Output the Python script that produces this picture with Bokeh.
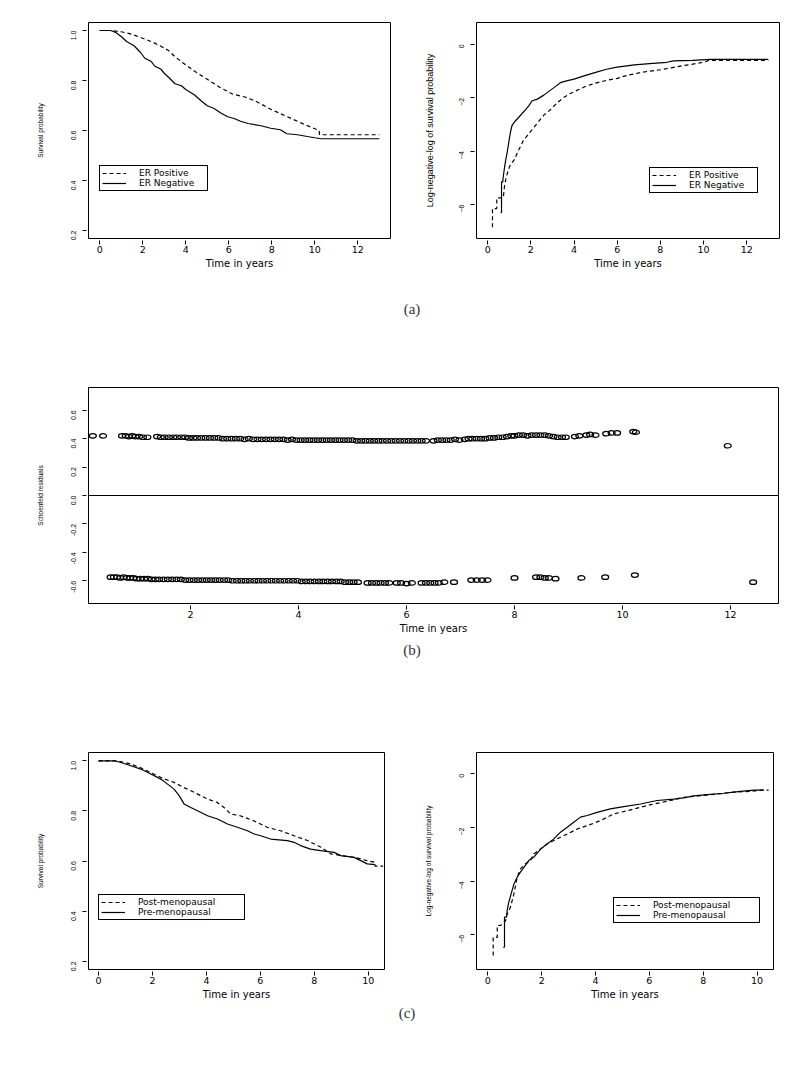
import math
from bokeh.plotting import figure
from bokeh.models import Range1d, FixedTicker, Legend, LegendItem, Span, Div, PrintfTickFormatter
from bokeh.layouts import column, row
from bokeh.embed import file_html
from bokeh.resources import INLINE

# ---------------- data ----------------
# (a) left: Kaplan-Meier survival by ER status
erpos_t = [0, 0.5, 1.0, 1.5, 2.0, 2.5, 3.0, 3.2, 3.5, 4.0, 4.5, 5.0, 5.6, 6.2, 6.8, 7.3, 8.0, 8.7, 9.5, 10.2, 10.22, 13.0]
erpos_s = [1.0, 1.0, 0.995, 0.985, 0.969, 0.952, 0.93, 0.92, 0.895, 0.862, 0.832, 0.805, 0.772, 0.745, 0.733, 0.715, 0.683, 0.656, 0.625, 0.60, 0.583, 0.583]
erneg_t = [0, 0.5, 0.75, 1.0, 1.25, 1.6, 1.9, 2.1, 2.4, 2.55, 2.85, 3.0, 3.25, 3.5, 3.8, 4.0, 4.4, 4.7, 5.0, 5.3, 5.65, 5.95, 6.25, 6.55, 6.9, 7.5, 7.95, 8.4, 8.7, 9.2, 9.65, 10.0, 10.3, 13.0]
erneg_s = [1.0, 1.0, 0.992, 0.976, 0.956, 0.939, 0.912, 0.889, 0.876, 0.858, 0.845, 0.829, 0.809, 0.787, 0.779, 0.764, 0.743, 0.72, 0.699, 0.689, 0.669, 0.655, 0.648, 0.637, 0.628, 0.619, 0.609, 0.603, 0.587, 0.583, 0.576, 0.571, 0.567, 0.567]

# (a) right: log(-log S) by ER status
erpos_lt = [0.22, 0.22, 0.42, 0.42, 0.72, 0.78, 0.85, 0.92, 1.0, 1.1, 1.25, 1.4, 1.5, 1.65, 1.8, 2.0, 2.3, 2.6, 2.9, 3.2, 3.5, 3.8, 4.2, 4.6, 5.0, 5.5, 6.0, 6.5, 7.0, 7.5, 8.0, 8.5, 9.0, 9.5, 10.0, 10.25, 13.0]
erpos_ly = [-6.85, -6.15, -6.15, -5.75, -5.75, -5.3, -5.0, -4.8, -4.6, -4.45, -4.3, -4.0, -3.85, -3.6, -3.45, -3.25, -2.95, -2.65, -2.45, -2.2, -2.0, -1.85, -1.7, -1.55, -1.45, -1.35, -1.27, -1.15, -1.07, -1.0, -0.95, -0.88, -0.8, -0.74, -0.67, -0.6, -0.6]
erneg_lt = [0.6, 0.64, 0.64, 0.7, 0.72, 0.78, 0.84, 0.9, 0.95, 1.0, 1.05, 1.12, 1.2, 1.3, 1.45, 1.6, 1.75, 1.9, 2.05, 2.3, 2.6, 2.85, 3.1, 3.4, 3.7, 4.0, 4.5, 5.0, 5.5, 6.0, 6.8, 7.5, 8.3, 8.6, 9.5, 10.3, 13.0]
erneg_ly = [-6.3, -6.3, -5.15, -5.15, -4.95, -4.6, -4.3, -4.05, -3.8, -3.55, -3.3, -3.05, -2.95, -2.85, -2.72, -2.58, -2.45, -2.3, -2.12, -2.05, -1.9, -1.75, -1.6, -1.42, -1.36, -1.3, -1.17, -1.05, -0.93, -0.85, -0.77, -0.72, -0.67, -0.62, -0.6, -0.56, -0.56]

# (b) Schoenfeld residuals
res_up_t = [0.19, 0.38, 0.73, 0.80, 0.86, 0.92, 0.98, 1.05, 1.12, 1.2,
            1.38, 1.45, 1.52, 1.6, 1.68, 1.75, 1.83, 1.9, 1.97, 2.05, 2.12, 2.2, 2.28, 2.36, 2.44, 2.52,
            2.6, 2.68, 2.76, 2.84, 2.92, 3.0, 3.08, 3.16, 3.24, 3.32, 3.4, 3.48, 3.56, 3.64, 3.72, 3.8,
            3.88, 3.96, 4.04, 4.12, 4.2, 4.28, 4.36, 4.44, 4.52, 4.6, 4.68, 4.76, 4.84, 4.92, 5.0, 5.08,
            5.16, 5.24, 5.32, 5.4, 5.48, 5.56, 5.64, 5.72, 5.8, 5.88, 5.96, 6.04, 6.12, 6.2, 6.28, 6.36,
            6.5, 6.58, 6.66, 6.74, 6.82, 6.9, 6.98,
            7.08, 7.15, 7.22, 7.3, 7.38, 7.46, 7.54, 7.62, 7.7, 7.78, 7.86, 7.94, 8.0, 8.08, 8.16, 8.24,
            8.32, 8.4, 8.48, 8.56, 8.64, 8.72, 8.8,
            8.88, 8.95, 9.12, 9.2, 9.33, 9.4, 9.5, 9.7, 9.8, 9.9, 10.2, 10.25, 11.95]
res_up_r = [0.42, 0.42, 0.42, 0.42, 0.415, 0.42, 0.415, 0.415, 0.41, 0.41,
            0.415, 0.41, 0.41, 0.41, 0.41, 0.41, 0.41, 0.41, 0.405, 0.405, 0.405, 0.405, 0.405, 0.405, 0.405, 0.405,
            0.40, 0.40, 0.40, 0.40, 0.40, 0.395, 0.40, 0.395, 0.395, 0.395, 0.395, 0.395, 0.395, 0.395, 0.395, 0.39,
            0.395, 0.39, 0.39, 0.39, 0.39, 0.39, 0.39, 0.39, 0.39, 0.39, 0.39, 0.39, 0.39, 0.39, 0.39, 0.385,
            0.385, 0.385, 0.385, 0.385, 0.385, 0.385, 0.385, 0.385, 0.385, 0.385, 0.385, 0.385, 0.385, 0.385, 0.385, 0.385,
            0.385, 0.39, 0.39, 0.39, 0.39, 0.395, 0.39,
            0.395, 0.40, 0.40, 0.40, 0.40, 0.40, 0.405, 0.405, 0.41, 0.41, 0.415, 0.42, 0.42, 0.425, 0.425, 0.42,
            0.425, 0.425, 0.425, 0.425, 0.42, 0.415, 0.41,
            0.41, 0.41, 0.415, 0.42, 0.425, 0.43, 0.425, 0.435, 0.44, 0.44, 0.45, 0.445, 0.35]
res_lo_t = [0.52, 0.58, 0.64, 0.7, 0.76, 0.82, 0.88, 0.94, 1.0, 1.07, 1.14, 1.21, 1.28, 1.35, 1.42, 1.5,
            1.58, 1.66, 1.74, 1.82, 1.9, 1.98, 2.06, 2.14, 2.22, 2.3, 2.38, 2.46, 2.54, 2.62, 2.7, 2.78,
            2.86, 2.94, 3.02, 3.1, 3.18, 3.26, 3.34, 3.42, 3.5, 3.58, 3.66, 3.74, 3.82, 3.9, 3.98, 4.06,
            4.14, 4.22, 4.3, 4.38, 4.46, 4.54, 4.62, 4.7, 4.78, 4.86, 4.94, 5.02, 5.1,
            5.28, 5.36, 5.44, 5.52, 5.6, 5.68, 5.82, 5.9, 6.0, 6.1,
            6.28, 6.36, 6.44, 6.52, 6.6, 6.7, 6.88,
            7.2, 7.3, 7.4, 7.5, 8.0, 8.4, 8.48, 8.56, 8.64, 8.76, 9.24, 9.68, 10.23, 12.42]
res_lo_r = [-0.575, -0.575, -0.575, -0.58, -0.575, -0.58, -0.58, -0.58, -0.585, -0.585, -0.585, -0.585, -0.59, -0.59, -0.59, -0.59,
            -0.59, -0.59, -0.59, -0.59, -0.595, -0.595, -0.595, -0.595, -0.595, -0.595, -0.595, -0.595, -0.595, -0.595, -0.595, -0.6,
            -0.6, -0.6, -0.6, -0.6, -0.6, -0.6, -0.6, -0.6, -0.6, -0.6, -0.6, -0.6, -0.6, -0.6, -0.6, -0.605,
            -0.605, -0.605, -0.605, -0.605, -0.605, -0.605, -0.605, -0.605, -0.605, -0.61, -0.61, -0.61, -0.61,
            -0.615, -0.615, -0.615, -0.615, -0.615, -0.615, -0.615, -0.615, -0.62, -0.615,
            -0.615, -0.615, -0.615, -0.615, -0.615, -0.61, -0.61,
            -0.595, -0.595, -0.595, -0.595, -0.58, -0.575, -0.575, -0.58, -0.58, -0.585, -0.58, -0.575, -0.56, -0.61]

# (c) left: Kaplan-Meier survival by menopausal status
post_t = [0, 0.7, 1.2, 1.55, 2.05, 2.45, 2.8, 3.15, 3.55, 4.05, 4.4, 4.65, 4.9, 5.25, 5.75, 6.25, 6.75, 7.25, 7.75, 8.25, 8.6, 9.0, 9.5, 9.95, 10.25, 10.25, 10.55]
post_s = [1.0, 1.0, 0.987, 0.973, 0.947, 0.927, 0.914, 0.894, 0.874, 0.847, 0.834, 0.814, 0.788, 0.781, 0.761, 0.735, 0.721, 0.701, 0.682, 0.655, 0.629, 0.622, 0.615, 0.602, 0.595, 0.58, 0.58]
pre_t = [0, 0.58, 0.83, 1.2, 1.57, 1.94, 2.31, 2.56, 2.8, 2.99, 3.17, 3.42, 3.67, 4.04, 4.41, 4.78, 5.15, 5.52, 5.77, 6.01, 6.38, 7.0, 7.25, 7.49, 7.86, 8.23, 8.73, 8.98, 9.47, 9.72, 9.96, 10.25]
pre_s = [1.0, 1.0, 0.993, 0.98, 0.967, 0.947, 0.927, 0.907, 0.887, 0.861, 0.828, 0.814, 0.801, 0.781, 0.768, 0.748, 0.735, 0.721, 0.708, 0.701, 0.688, 0.682, 0.675, 0.662, 0.648, 0.642, 0.635, 0.622, 0.615, 0.602, 0.589, 0.586]

# (c) right: log(-log S) by menopausal status
post_lt = [0.2, 0.2, 0.35, 0.35, 0.47, 0.66, 0.72, 0.84, 0.97, 1.09, 1.21, 1.4, 1.58, 1.71, 1.96, 2.2, 2.45, 2.7, 2.95, 3.32, 3.69, 4.18, 4.68, 5.17, 5.67, 6.16, 6.66, 7.28, 7.9, 8.51, 9.13, 9.75, 10.12, 10.43]
post_ly = [-6.77, -6.09, -6.09, -5.65, -5.65, -5.47, -5.22, -4.97, -4.47, -3.85, -3.54, -3.35, -3.23, -2.98, -2.8, -2.61, -2.48, -2.36, -2.24, -2.05, -1.93, -1.74, -1.49, -1.37, -1.24, -1.12, -1.02, -0.87, -0.81, -0.75, -0.68, -0.65, -0.6, -0.6]
pre_lt = [0.57, 0.62, 0.62, 0.69, 0.72, 0.78, 0.9, 0.97, 1.09, 1.21, 1.34, 1.52, 1.71, 1.96, 2.2, 2.45, 2.7, 2.95, 3.19, 3.44, 3.69, 4.06, 4.55, 5.05, 5.67, 6.29, 6.91, 7.28, 7.65, 8.14, 8.76, 9.38, 9.88, 10.25]
pre_ly = [-6.46, -6.46, -5.34, -5.34, -5.09, -4.78, -4.35, -4.1, -3.85, -3.66, -3.48, -3.23, -3.1, -2.8, -2.61, -2.42, -2.17, -1.99, -1.8, -1.61, -1.55, -1.43, -1.30, -1.22, -1.12, -0.99, -0.94, -0.89, -0.82, -0.77, -0.72, -0.65, -0.6, -0.6]

# tick labels / texts
surv_yticks = [0.2, 0.4, 0.6, 0.8, 1.0]
loglog_yticks = [-6, -4, -2, 0]
res_yticks = [-0.6, -0.4, -0.2, 0.0, 0.2, 0.4, 0.6]
xticks_13 = [0, 2, 4, 6, 8, 10, 12]
xticks_res = [2, 4, 6, 8, 10, 12]
xticks_10 = [0, 2, 4, 6, 8, 10]
er_labels = ["ER Positive", "ER Negative"]
meno_labels = ["Post-menopausal", "Pre-menopausal"]
xlabel = "Time in years"
ylab_surv = "Survival probability"
ylab_loglog = "Log-negative-log of survival probability"
ylab_res = "Schoenfeld residuals"
captions = ["(a)", "(b)", "(c)"]

SANS_W = "DejaVu Sans"
SANS_N = "Liberation Sans"
DASH = "4 3"


def make_fig(width, height, left, right, top, bottom, xr, yr, xt, yt, yfmt, ylab, ylab_size, ylab_standoff):
    p = figure(width=width, height=height, x_range=Range1d(*xr), y_range=Range1d(*yr),
               output_backend="svg", toolbar_location=None,
               min_border_left=left, min_border_right=right,
               min_border_top=top, min_border_bottom=bottom)
    p.xgrid.visible = False
    p.ygrid.visible = False
    p.outline_line_color = "black"
    p.outline_line_alpha = 1.0
    p.outline_line_width = 1
    p.background_fill_color = "white"
    p.border_fill_color = "white"
    xa = p.xaxis[0]
    ya = p.yaxis[0]
    xa.ticker = FixedTicker(ticks=xt)
    ya.ticker = FixedTicker(ticks=yt)
    if yfmt:
        ya.formatter = PrintfTickFormatter(format=yfmt)
    for ax in (xa, ya):
        ax.axis_line_color = None
        ax.minor_tick_line_color = None
        ax.major_tick_line_color = "black"
        ax.major_tick_in = -2
        ax.major_tick_out = 6
        ax.axis_label_text_font_style = "normal"
        ax.axis_label_text_color = "black"
        ax.major_label_text_color = "black"
    xa.major_label_text_font = SANS_W
    xa.major_label_text_font_size = "9.5px"
    xa.major_label_standoff = 1
    xa.axis_label = xlabel
    xa.axis_label_text_font = SANS_W
    xa.axis_label_text_font_size = "10px"
    xa.axis_label_standoff = 2
    ya.major_label_orientation = math.pi / 2
    ya.major_label_text_font = SANS_N
    ya.major_label_text_font_size = "7px"
    ya.major_label_standoff = 9
    ya.axis_label = ylab
    ya.axis_label_text_font = SANS_N
    ya.axis_label_text_font_size = ylab_size
    ya.axis_label_standoff = ylab_standoff
    return p


def add_legend(p, renderers, labels, loc, label_width):
    items = [LegendItem(label=l, renderers=[r]) for l, r in zip(labels, renderers)]
    lg = Legend(items=items, location=loc, orientation="vertical",
                border_line_color="black", border_line_width=1, border_line_alpha=1.0,
                background_fill_color="white", background_fill_alpha=1.0,
                padding=2, spacing=0, margin=0, glyph_width=24, glyph_height=8,
                label_height=8, label_width=label_width, label_standoff=13,
                label_text_font=SANS_W, label_text_font_size="9px",
                label_text_line_height=0.9,
                label_text_color="black")
    p.add_layout(lg)


# ---- (a) left  (extra 8px on the left/top stands in for the page margin)
pa1 = make_fig(400, 298, 88, 10, 22, 60, (-0.52, 13.52), (0.168, 1.032),
               xticks_13, surv_yticks, "%.1f", ylab_surv, "6.5px", 22)
r1 = pa1.line(erpos_t, erpos_s, line_color="black", line_width=1.2, line_dash=DASH)
r2 = pa1.line(erneg_t, erneg_s, line_color="black", line_width=1.2)
add_legend(pa1, [r1, r2], er_labels, (11, 47), 66)

# ---- (a) right
pa2 = make_fig(392, 298, 76, 13, 22, 60, (-0.52, 13.52), (-7.27, 0.82),
               xticks_13, loglog_yticks, None, ylab_loglog, "9px", 19)
r3 = pa2.line(erpos_lt, erpos_ly, line_color="black", line_width=1.2, line_dash=DASH)
r4 = pa2.line(erneg_lt, erneg_ly, line_color="black", line_width=1.2)
add_legend(pa2, [r3, r4], er_labels, (173, 45), 66)

# ---- (b)
pb = make_fig(792, 320, 88, 14, 67, 37, (0.11, 12.89), (-0.76, 0.76),
              xticks_res, res_yticks, "%.1f", ylab_res, "6.5px", 22)
pb.add_layout(Span(location=0, dimension="width", line_color="black", line_width=1))
pb.ellipse(res_up_t, res_up_r, width=7, height=4.5, width_units="screen", height_units="screen",
           fill_color=None, line_color="black", line_width=1.2)
pb.ellipse(res_lo_t, res_lo_r, width=7, height=4.5, width_units="screen", height_units="screen",
           fill_color=None, line_color="black", line_width=1.2)

# ---- (c) left
pc1 = make_fig(400, 346, 88, 16, 92, 37, (-0.37, 10.6), (0.168, 1.033),
               xticks_10, surv_yticks, "%.1f", ylab_surv, "6.5px", 22)
r5 = pc1.line(post_t, post_s, line_color="black", line_width=1.2, line_dash=DASH)
r6 = pc1.line(pre_t, pre_s, line_color="black", line_width=1.2)
add_legend(pc1, [r5, r6], meno_labels, (10, 49), 104)

# ---- (c) right
pc2 = make_fig(392, 346, 76, 19, 92, 37, (-0.42, 10.61), (-7.29, 0.8),
               xticks_10, loglog_yticks, None, ylab_loglog, "6.5px", 22)
r7 = pc2.line(post_lt, post_ly, line_color="black", line_width=1.2, line_dash=DASH)
r8 = pc2.line(pre_lt, pre_ly, line_color="black", line_width=1.2)
add_legend(pc2, [r7, r8], meno_labels, (137, 46), 104)


def caption(text, h, pad):
    return Div(text=text, width=792, height=h, margin=0,
               styles={"text-align": "center", "font-family": "'Liberation Serif', serif",
                       "font-size": "15px", "line-height": f"{h}px", "color": "#333333",
                       "padding-left": f"{pad}px", "box-sizing": "border-box",
                       "width": "792px"})


layout = column(
    row(pa1, pa2, spacing=0),
    caption(captions[0], 22, 32),
    pb,
    caption(captions[1], 20, 32),
    row(pc1, pc2, spacing=0),
    caption(captions[2], 14, 22),
    spacing=0,
)

open("out.html", "w").write(file_html(layout, INLINE))
